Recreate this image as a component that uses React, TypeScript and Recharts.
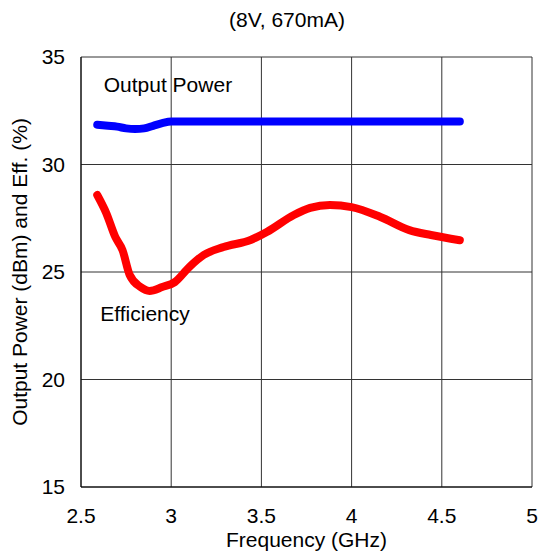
import React from 'react';
import { LineChart, Line, XAxis, YAxis, CartesianGrid, ReferenceDot } from 'recharts';

// Output power (dBm) vs frequency (GHz)
const powerFreq = [2.59, 2.65, 2.7, 2.75, 2.8, 2.85, 2.9, 2.95, 3.0, 3.2, 3.4, 3.6, 3.8, 4.0, 4.2, 4.4, 4.6];
const powerValues = [31.85, 31.8, 31.76, 31.68, 31.65, 31.68, 31.8, 31.92, 32.0, 32.0, 32.0, 32.0, 32.0, 32.0, 32.0, 32.0, 32.0];

// Efficiency (%) vs frequency (GHz)
const effFreq = [
  2.59, 2.64, 2.69, 2.73, 2.77, 2.83, 2.88, 2.95, 3.02, 3.1, 3.18, 3.29, 3.44, 3.53, 3.68, 3.77,
  3.88, 4.0, 4.16, 4.32, 4.44, 4.6,
];
const effValues = [
  28.58, 27.74, 26.63, 26.02, 24.86, 24.3, 24.12, 24.3, 24.53, 25.23, 25.79, 26.16, 26.49, 26.86,
  27.65, 27.98, 28.12, 28.02, 27.56, 26.95, 26.72, 26.48,
];

const xTicks = [2.5, 3, 3.5, 4, 4.5, 5];
const yTicks = [15, 20, 25, 30, 35];

const powerData = powerFreq.map((f, i) => ({ f, v: powerValues[i] }));
const effData = effFreq.map((f, i) => ({ f, v: effValues[i] }));

const FONT = '"Liberation Sans", Arial, sans-serif';
const FS = 21;

export default function App() {
  return (
    <div style={{ position: 'fixed', top: 0, left: 0, width: 540, height: 552, fontFamily: FONT, background: '#fff', overflow: 'hidden' }}>
      <div style={{ position: 'absolute', top: 8, left: 0, width: 574, textAlign: 'center', fontSize: FS, lineHeight: '24px', color: '#000' }}>
        (8V, 670mA)
      </div>
      <LineChart width={540} height={552} margin={{ top: 57, right: 8, bottom: 0, left: 0 }}>
        <CartesianGrid stroke="#333" strokeWidth={1} />
        <XAxis
          dataKey="f"
          type="number"
          domain={[2.5, 5]}
          ticks={xTicks}
          height={65}
          tickLine={false}
          axisLine={{ stroke: '#000' }}
          tick={{ fill: '#000', fontSize: FS, fontFamily: FONT }}
          tickMargin={15}
          label={{ value: 'Frequency (GHz)', position: 'insideBottom', offset: 5, fill: '#000', fontSize: FS, fontFamily: FONT }}
        />
        <YAxis
          dataKey="v"
          type="number"
          domain={[15, 35]}
          ticks={yTicks}
          width={81}
          tickLine={false}
          axisLine={{ stroke: '#000' }}
          tick={{ fill: '#000', fontSize: FS, fontFamily: FONT }}
          tickMargin={10}
          label={{ value: 'Output Power (dBm) and Eff. (%)', angle: -90, position: 'insideLeft', offset: 20, fill: '#000', fontSize: FS, fontFamily: FONT, style: { textAnchor: 'middle' } }}
        />
        <Line data={powerData} dataKey="v" type="monotone" stroke="#0000ff" strokeWidth={8} strokeLinecap="round" strokeLinejoin="round" dot={false} isAnimationActive={false} />
        <Line data={effData} dataKey="v" type="monotone" stroke="#ff0000" strokeWidth={8} strokeLinecap="round" strokeLinejoin="round" dot={false} isAnimationActive={false} />
        <ReferenceDot x={2.982} y={33.7} r={0} stroke="none" label={{ value: 'Output Power', position: 'center', fill: '#000', fontSize: FS, fontFamily: FONT }} />
        <ReferenceDot x={2.855} y={23.05} r={0} stroke="none" label={{ value: 'Efficiency', position: 'center', fill: '#000', fontSize: FS, fontFamily: FONT }} />
      </LineChart>
    </div>
  );
}
